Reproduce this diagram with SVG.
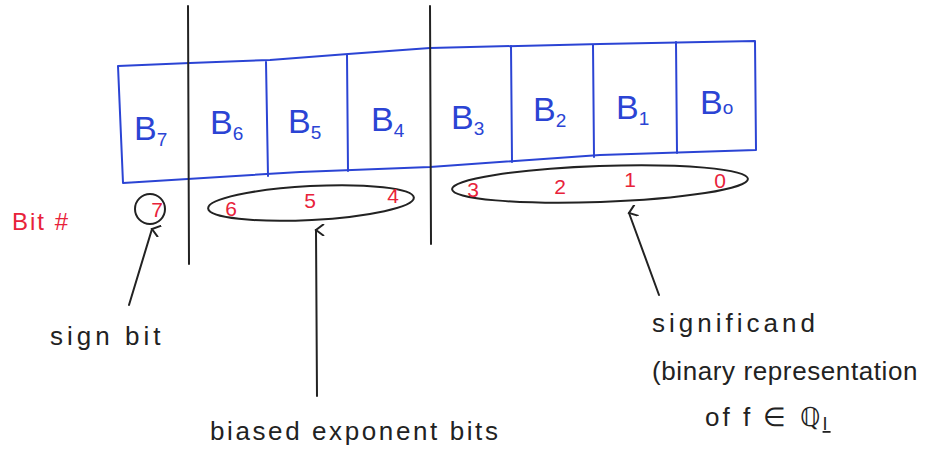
<svg xmlns="http://www.w3.org/2000/svg" width="942" height="452" viewBox="0 0 942 452">
<style>
.blue{fill:none;stroke:#2b44d4;stroke-width:2;stroke-linecap:round;stroke-linejoin:round}
.ink{fill:none;stroke:#222;stroke-width:2;stroke-linecap:round;stroke-linejoin:round}
.b{font-family:"Liberation Sans",Arial,sans-serif;font-size:34px;fill:#2b44d4}
.b tspan{font-size:19px}
.r{font-family:"Liberation Sans",Arial,sans-serif;font-size:21px;fill:#e8223a;text-anchor:middle}
.t{font-family:"Liberation Sans",Arial,sans-serif;font-size:26px;fill:#222}
</style>
<defs>
<marker id="ah" viewBox="0 0 12 12" refX="6" refY="2" markerWidth="12" markerHeight="12" markerUnits="userSpaceOnUse" orient="auto-start-reverse">
<path d="M0,10 L6,2 L12,10" fill="none" stroke="#222" stroke-width="2"/>
</marker>
</defs>
<rect width="942" height="452" fill="#fff"/>
<g id="register">
<path class="blue" d="M118,66 L190,63 L270,60 L348,54 L430,48 L600,44 L755,41 L756,150 L600,155 L430,167 L300,172 L123,183 Z"/>
<path class="blue" d="M266,62 L268,176 M347,55 L348,171 M511,46 L512,162 M593,45 L594,157 M676,42 L677,153"/>
<text class="b" x="134" y="140">B<tspan dy="6">7</tspan></text>
<text class="b" x="210" y="134">B<tspan dy="6">6</tspan></text>
<text class="b" x="288" y="133">B<tspan dy="6">5</tspan></text>
<text class="b" x="371" y="131">B<tspan dy="6">4</tspan></text>
<text class="b" x="451" y="129">B<tspan dy="6">3</tspan></text>
<text class="b" x="533" y="121">B<tspan dy="6">2</tspan></text>
<text class="b" x="616" y="119">B<tspan dy="6">1</tspan></text>
<text class="b" x="700" y="114">B<tspan font-size="26" dy="0">o</tspan></text>
</g>
<g id="dividers">
<path class="ink" d="M188,6 L189,264 M430,6 L431,244"/>
</g>
<g id="bit-numbers">
<text x="12" y="230" font-family="Liberation Sans,Arial,sans-serif" font-size="24" letter-spacing="2" fill="#e8223a">Bit #</text>
<circle class="ink" cx="150" cy="209" r="15"/>
<text class="r" x="157" y="217">7</text>
<ellipse class="ink" cx="311" cy="203" rx="103" ry="17" transform="rotate(-3 311 203)"/>
<text class="r" x="231" y="216">6</text>
<text class="r" x="310" y="208">5</text>
<text class="r" x="393" y="203">4</text>
<ellipse class="ink" cx="600" cy="184" rx="148" ry="18" transform="rotate(-2 600 184)"/>
<text class="r" x="473" y="197">3</text>
<text class="r" x="560" y="194">2</text>
<text class="r" x="630" y="187">1</text>
<text class="r" x="720" y="188">0</text>
</g>
<g id="connectors">
<path class="ink" d="M129,305 L152,229" marker-end="url(#ah)"/>
<path class="ink" d="M317,396 L316,230" marker-end="url(#ah)"/>
<path class="ink" d="M659,295 L629,213" marker-end="url(#ah)"/>
</g>
<g id="labels">
<text class="t" x="50" y="345" letter-spacing="4">sign bit</text>
<text class="t" x="210" y="440" letter-spacing="2.6">biased exponent bits</text>
<text class="t" x="652" y="332" letter-spacing="4">significand</text>
<text class="t" x="652" y="380" font-size="22" letter-spacing="0.6">(binary representation</text>
<text class="t" x="705" y="426" letter-spacing="3">of  f ∈ ℚ<tspan font-size="18" dy="4" text-decoration="underline">I</tspan></text>
</g>
</svg>
